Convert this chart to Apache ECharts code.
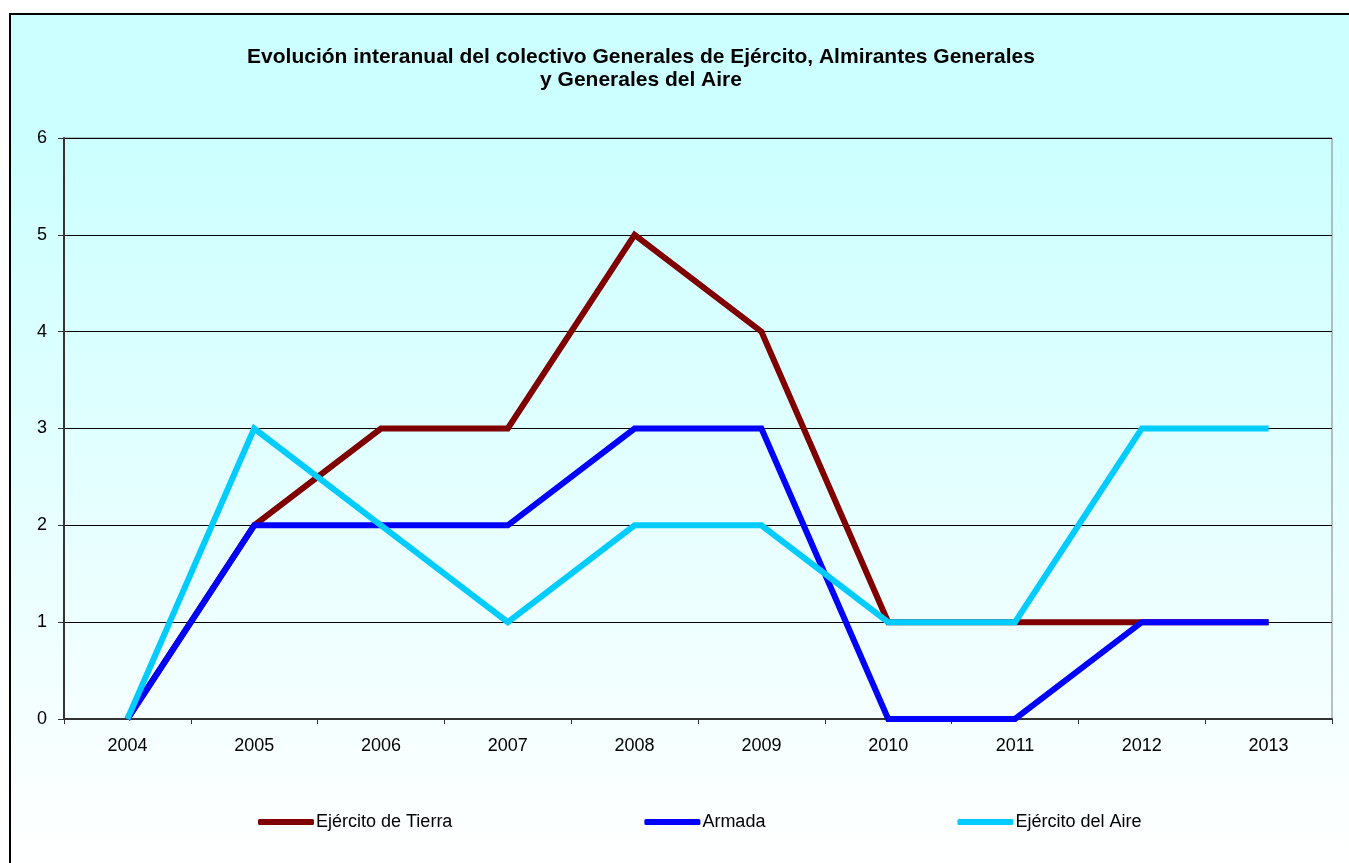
<!DOCTYPE html>
<html>
<head>
<meta charset="utf-8">
<script src="https://cdn.jsdelivr.net/npm/echarts@6/dist/echarts.min.js"></script>
<style>html,body{margin:0;padding:0;background:#fff;}#c{width:1349px;height:863px;}</style>
</head>
<body>
<div id="c"></div>
<script>
const categories = ['2004','2005','2006','2007','2008','2009','2010','2011','2012','2013'];
const tierra = [0,2,3,3,5,4,1,1,1,1];
const armada = [0,2,2,2,3,3,0,0,1,1];
const aire = [0,3,2,1,2,2,1,1,3,3];
const seriesNames = ['Ejército de Tierra','Armada','Ejército del Aire'];
const titleLines = ['Evolución interanual del colectivo Generales de Ejército, Almirantes Generales','y Generales del Aire'];

const FONT = '"Liberation Sans", Arial, sans-serif';
const chart = echarts.init(document.getElementById('c'));
function lineSeries(name, data, color) {
  return {
    name: name, type: 'line', data: data, symbol: 'none',
    lineStyle: {color: color, width: 6, cap: 'butt', join: 'miter'},
    itemStyle: {color: color},
    emphasis: {disabled: true},
    animation: false
  };
}
chart.setOption({
  animation: false,
  graphic: [
    {
      type: 'rect', z: -10, silent: true,
      shape: {x: 10, y: 14, width: 1400, height: 900},
      style: {
        fill: {type: 'linear', x: 0, y: 14, x2: 0, y2: 863, global: true,
               colorStops: [{offset: 0, color: '#CCFFFF'}, {offset: 0.15, color: '#CCFFFF'}, {offset: 1, color: '#FFFFFF'}]},
        stroke: '#000', lineWidth: 2
      }
    },
    {
      type: 'text', silent: true, x: 641, y: 57,
      style: {text: titleLines[0], font: 'bold 21px ' + FONT, fill: '#000', align: 'center', verticalAlign: 'middle'}
    },
    {
      type: 'text', silent: true, x: 641, y: 80,
      style: {text: titleLines[1], font: 'bold 21px ' + FONT, fill: '#000', align: 'center', verticalAlign: 'middle'}
    }
  ],
  grid: {
    left: 64, right: 17, top: 138, bottom: 144,
    show: true, borderColor: '#808080', borderWidth: 1, backgroundColor: 'transparent'
  },
  legend: {
    data: seriesNames,
    left: 258, top: 813, padding: 0,
    icon: 'roundRect', itemWidth: 56, itemHeight: 6, itemGap: 192,
    textStyle: {fontFamily: FONT, fontSize: 18, color: '#000', padding: [0,0,0,-3]},
    selectedMode: false
  },
  xAxis: {
    type: 'category', data: categories, boundaryGap: true,
    axisLine: {lineStyle: {color: '#333', width: 2}},
    axisTick: {show: true, length: 5, alignWithLabel: false, lineStyle: {color: '#333', width: 1}},
    axisLabel: {fontFamily: FONT, fontSize: 18, color: '#000', margin: 18},
    splitLine: {show: false}
  },
  yAxis: {
    type: 'value', min: 0, max: 6, interval: 1,
    axisLine: {show: true, lineStyle: {color: '#333', width: 2}},
    axisTick: {show: true, length: 6, lineStyle: {color: '#333', width: 1}},
    axisLabel: {fontFamily: FONT, fontSize: 18, color: '#000', margin: 17},
    splitLine: {show: true, lineStyle: {color: '#000', width: 1}}
  },
  series: [
    lineSeries(seriesNames[0], tierra, '#800000'),
    lineSeries(seriesNames[1], armada, '#0000FF'),
    lineSeries(seriesNames[2], aire, '#00CCFF')
  ]
});
</script>
</body>
</html>
